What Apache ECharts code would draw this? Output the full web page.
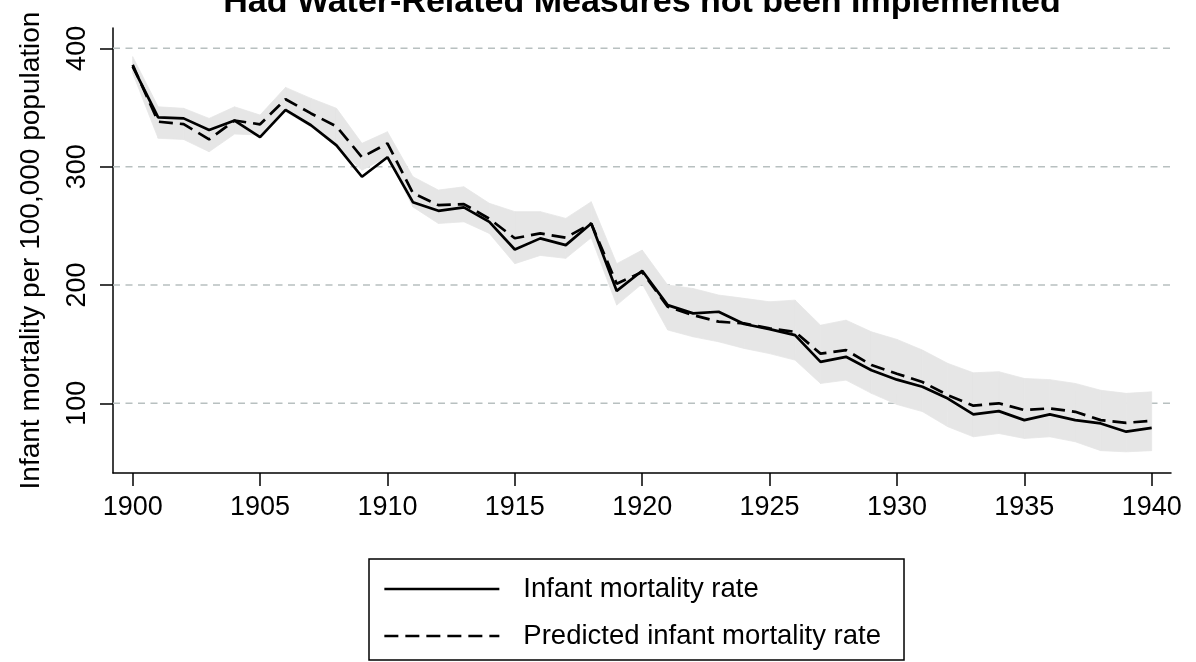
<!DOCTYPE html>
<html lang="en">

<head>
  <meta charset="UTF-8">
  <title>infant mortality</title>
  <script src="https://cdn.jsdelivr.net/npm/echarts@6.0.0/dist/echarts.min.js"></script>
  <style>
    body { margin: 0; background: #fff; }
    #main { width: 1196px; height: 662px; }
  </style>
</head>

<body>
  <div id="main"></div>
  <script>
    let years = [1900, 1901, 1902, 1903, 1904, 1905, 1906, 1907, 1908, 1909,
      1910, 1911, 1912, 1913, 1914, 1915, 1916, 1917, 1918, 1919,
      1920, 1921, 1922, 1923, 1924, 1925, 1926, 1927, 1928, 1929,
      1930, 1931, 1932, 1933, 1934, 1935, 1936, 1937, 1938, 1939, 1940];

    // observed rate
    let actual = [384.5, 341.7, 340.8, 331, 339, 325, 348, 335, 318, 291.5,
      308, 270, 262.7, 265.6, 253.4, 230, 239.4, 233.7, 252, 195,
      212, 183, 176, 177.4, 167, 162.7, 157.6, 135, 139.3, 128,
      120, 114, 104, 90.6, 93.4, 85.8, 90.6, 85.8, 83, 76, 79.3];

    // counterfactual prediction
    let predicted = [386, 338, 336, 323, 339, 335.8, 357, 345, 334, 308,
      319.7, 277.7, 267.5, 268.4, 256, 239.5, 243.6, 240, 252, 201,
      211, 181.6, 174.5, 169, 167.5, 163.3, 160.4, 142, 145, 132.3,
      125, 118, 106.9, 98, 100, 94.3, 95.7, 92.8, 85.8, 83.5, 85.2];

    // confidence band
    let upper = [393, 350.6, 349.3, 340.8, 350.6, 343.6, 367, 357.7, 349.3, 319.7,
      329.5, 291.5, 280.2, 283, 269, 262, 262, 256.3, 270.3, 218,
      229.5, 200, 197, 191.5, 188.7, 185.8, 187.2, 166, 170.3, 160.4,
      154, 145, 133.7, 125.8, 126.7, 121, 120, 116.8, 111, 108.4, 109.7];
    let lower = [379, 324, 323, 312.6, 327.6, 326.7, 346.4, 333.7, 316.8, 297,
      308.4, 266, 252, 253.4, 243.6, 218, 225, 222.5, 240, 183,
      201, 162, 156.2, 152, 146.4, 142, 136.5, 116.8, 119.6, 108.4,
      99, 93, 80.2, 71.7, 74.5, 70.3, 71.7, 67.5, 60, 59, 60];

    let xTicks = [1900, 1905, 1910, 1915, 1920, 1925, 1930, 1935, 1940];
    let yTicks = [100, 200, 300, 400];

    let font = '"Liberation Sans", Arial, sans-serif';
    let pairs = arr => years.map((y, i) => [y, arr[i]]);

    // one quad per year-to-year step of the band
    let bandSegs = [];
    for (let i = 0; i < years.length - 1; i++) {
      bandSegs.push([years[i], lower[i], upper[i], years[i + 1], lower[i + 1], upper[i + 1]]);
    }

    function renderBand(params, api) {
      let p0 = api.coord([api.value(0), api.value(1)]);
      let p1 = api.coord([api.value(3), api.value(4)]);
      let p2 = api.coord([api.value(3), api.value(5)]);
      let p3 = api.coord([api.value(0), api.value(2)]);
      return {
        type: 'polygon',
        shape: { points: [p0, p1, p2, p3] },
        style: { fill: '#e6e6e6', stroke: '#e6e6e6', lineWidth: 0.8 }
      };
    }

    // horizontal dashed grid line across the plot at a y tick
    function renderGridLine(params, api) {
      let cs = params.coordSys;
      let y = api.coord([xTicks[0], api.value(0)])[1];
      return {
        type: 'line',
        shape: { x1: cs.x, y1: y, x2: cs.x + cs.width, y2: y },
        style: { stroke: '#b8c0c0', lineWidth: 1.5, lineDash: [7, 5.5] }
      };
    }

    let chart = echarts.init(document.getElementById('main'));
    let option = {
      animation: false,
      backgroundColor: '#fff',
      textStyle: { fontFamily: font, color: '#000' },
      graphic: [{
        type: 'text',
        x: 642,
        y: 3,
        style: {
          text: 'Had Water-Related Measures not been Implemented',
          font: 'bold 34px ' + font,
          fill: '#000',
          align: 'center',
          verticalAlign: 'middle'
        }
      }],
      grid: { left: 113, right: 25, top: 28, bottom: 189 },
      legend: {
        orient: 'vertical',
        left: 369,
        top: 559,
        padding: [16, 23, 10, 14],
        borderColor: '#000',
        borderWidth: 1.5,
        itemWidth: 115,
        itemHeight: 28,
        itemGap: 19,
        itemStyle: { opacity: 0 },
        lineStyle: { width: 2.7 },
        data: ['Infant mortality rate', 'Predicted infant mortality rate'],
        textStyle: { fontSize: 27.5, lineHeight: 28, color: '#000', padding: [0, 0, 0, 19] }
      },
      xAxis: {
        type: 'value',
        min: 1899.227,
        max: 1940.758,
        splitLine: { show: false },
        axisLine: { show: true, lineStyle: { color: '#000', width: 1.5 } },
        axisTick: { show: true, length: 13, customValues: xTicks, lineStyle: { color: '#000', width: 1.5 } },
        axisLabel: { customValues: xTicks, formatter: v => String(v), fontSize: 27, color: '#000', margin: 21 }
      },
      yAxis: {
        type: 'value',
        min: 41.1,
        max: 417.2,
        name: 'Infant mortality per 100,000 population',
        nameLocation: 'middle',
        nameRotate: 90,
        nameGap: 68,
        nameTextStyle: { fontSize: 28, color: '#000' },
        splitLine: { show: false },
        axisLine: { show: true, lineStyle: { color: '#000', width: 1.5 } },
        axisTick: { show: true, length: 13, customValues: yTicks, lineStyle: { color: '#000', width: 1.5 } },
        axisLabel: { customValues: yTicks, formatter: v => String(v), rotate: 90, fontSize: 27, color: '#000', margin: 22 }
      },
      series: [
        {
          type: 'custom',
          name: 'grid',
          data: yTicks.map(v => [v]),
          renderItem: renderGridLine,
          encode: { y: 0 },
          z: 1,
          silent: true
        },
        {
          // own layer so the band always sits over the grid lines
          type: 'custom',
          name: 'band',
          data: bandSegs,
          renderItem: renderBand,
          encode: { x: [0, 3], y: [1, 2, 4, 5] },
          zlevel: 1,
          z: 2,
          silent: true
        },
        {
          type: 'line',
          name: 'Infant mortality rate',
          data: pairs(actual),
          symbol: 'none',
          zlevel: 1,
          z: 4,
          lineStyle: { color: '#000', width: 2.7 },
          itemStyle: { color: '#000' }
        },
        {
          type: 'line',
          name: 'Predicted infant mortality rate',
          data: pairs(predicted),
          symbol: 'none',
          zlevel: 1,
          z: 3,
          lineStyle: { color: '#000', width: 2.7, type: [14, 7] },
          itemStyle: { color: '#000' }
        }
      ]
    };

    chart.setOption(option);
  </script>
</body>

</html>
